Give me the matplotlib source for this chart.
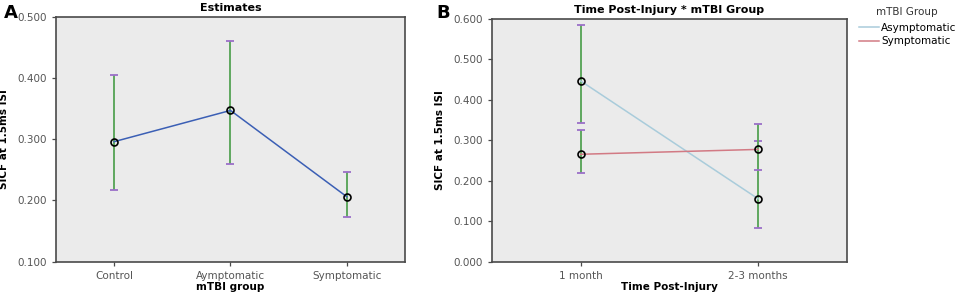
import matplotlib
matplotlib.use("Agg")
import matplotlib.pyplot as plt
from matplotlib.ticker import FormatStrFormatter

plt.rcParams['font.family'] = ['DejaVu Sans']

# ---- panel A data ----
groups_a = ['Control', 'Aymptomatic', 'Symptomatic']
mean_a = [0.296, 0.347, 0.206]
upper_a = [0.405, 0.461, 0.246]
lower_a = [0.217, 0.260, 0.173]

# ---- panel B data ----
times_b = ['1 month', '2-3 months']
mean_asym = [0.446, 0.155]
upper_asym = [0.584, 0.298]
lower_asym = [0.341, 0.083]
mean_sym = [0.265, 0.277]
upper_sym = [0.326, 0.340]
lower_sym = [0.218, 0.226]

BG = '#EBEBEB'
FRAME = '#4a4a4a'
GREEN = '#5FA85F'
PURPLE = '#9B6FC8'
TICKC = '#555555'


def style_axes(ax):
    ax.set_facecolor(BG)
    for s in ax.spines.values():
        s.set_color(FRAME)
        s.set_linewidth(1.2)
    ax.tick_params(axis='both', direction='out', length=3, width=0.9,
                   colors=FRAME, labelcolor=TICKC, labelsize=7.5)
    ax.tick_params(axis='y', right=False)
    ax.tick_params(axis='x', top=False)
    ax.yaxis.set_major_formatter(FormatStrFormatter('%.3f'))


def draw_err(ax, x, mean, lo, hi):
    yerr = [[m - l for m, l in zip(mean, lo)], [h - m for m, h in zip(mean, hi)]]
    _, caps, bars = ax.errorbar(x, mean, yerr=yerr, fmt='none', ecolor=GREEN,
                                elinewidth=1.4, capsize=2.6, capthick=1.3, zorder=2)
    for c in caps:
        c.set_markeredgecolor(PURPLE)
        c.set_markerfacecolor(PURPLE)


def draw_pts(ax, x, mean):
    ax.plot(x, mean, 'o', ms=5, mfc='none', mec='black', mew=1.2, zorder=4)


fig = plt.figure(figsize=(9.57, 2.94), dpi=100)

# ---------------- A ----------------
axA = fig.add_axes([0.0585, 0.110, 0.3647, 0.833])
style_axes(axA)
xa = list(range(len(groups_a)))
draw_err(axA, xa, mean_a, lower_a, upper_a)
axA.plot(xa, mean_a, color='#3B5FB5', lw=1.1, zorder=3)
draw_pts(axA, xa, mean_a)
axA.set_xlim(-0.5, 2.5)
axA.set_ylim(0.1, 0.5)
axA.set_yticks([0.1, 0.2, 0.3, 0.4, 0.5])
axA.set_xticks(xa)
axA.set_xticklabels(groups_a)
axA.set_xlabel('mTBI group', fontsize=7.5, fontweight='bold', labelpad=1)
axA.set_ylabel('SICF at 1.5ms ISI', fontsize=7.5, fontweight='bold', labelpad=6)
axA.set_title('Estimates', fontsize=8, fontweight='bold', pad=4)
fig.text(0.004, 0.985, 'A', fontsize=13, fontweight='bold', va='top', ha='left')

# ---------------- B ----------------
axB = fig.add_axes([0.514, 0.110, 0.371, 0.827])
style_axes(axB)
xb = list(range(len(times_b)))
draw_err(axB, xb, mean_asym, lower_asym, upper_asym)
draw_err(axB, xb, mean_sym, lower_sym, upper_sym)
axB.plot(xb, mean_asym, color='#A9CCDB', lw=1.1, zorder=3, label='Asymptomatic')
axB.plot(xb, mean_sym, color='#D27A84', lw=1.1, zorder=3, label='Symptomatic')
draw_pts(axB, xb, mean_asym)
draw_pts(axB, xb, mean_sym)
axB.set_xlim(-0.5, 1.5)
axB.set_ylim(0.0, 0.6)
axB.set_yticks([0.0, 0.1, 0.2, 0.3, 0.4, 0.5, 0.6])
axB.set_xticks(xb)
axB.set_xticklabels(times_b)
axB.set_xlabel('Time Post-Injury', fontsize=7.5, fontweight='bold', labelpad=1)
axB.set_ylabel('SICF at 1.5ms ISI', fontsize=7.5, fontweight='bold', labelpad=6)
axB.set_title('Time Post-Injury * mTBI Group', fontsize=8, fontweight='bold', pad=4)
fig.text(0.456, 0.985, 'B', fontsize=13, fontweight='bold', va='top', ha='left')

# legend: title placed separately so its gap matches the original
fig.text(907 / 957, 1 - 12 / 294, 'mTBI Group', fontsize=7.5, color='#333333',
         ha='center', va='center')
h, l = axB.get_legend_handles_labels()
fig.legend(h, l, loc='upper left', bbox_to_anchor=(857 / 957, 1 - 21 / 294),
           frameon=False, fontsize=7.5, handlelength=1.9, handletextpad=0.2,
           labelspacing=0.3, borderpad=0.2, borderaxespad=0)

fig.savefig('out.png', dpi=100)
